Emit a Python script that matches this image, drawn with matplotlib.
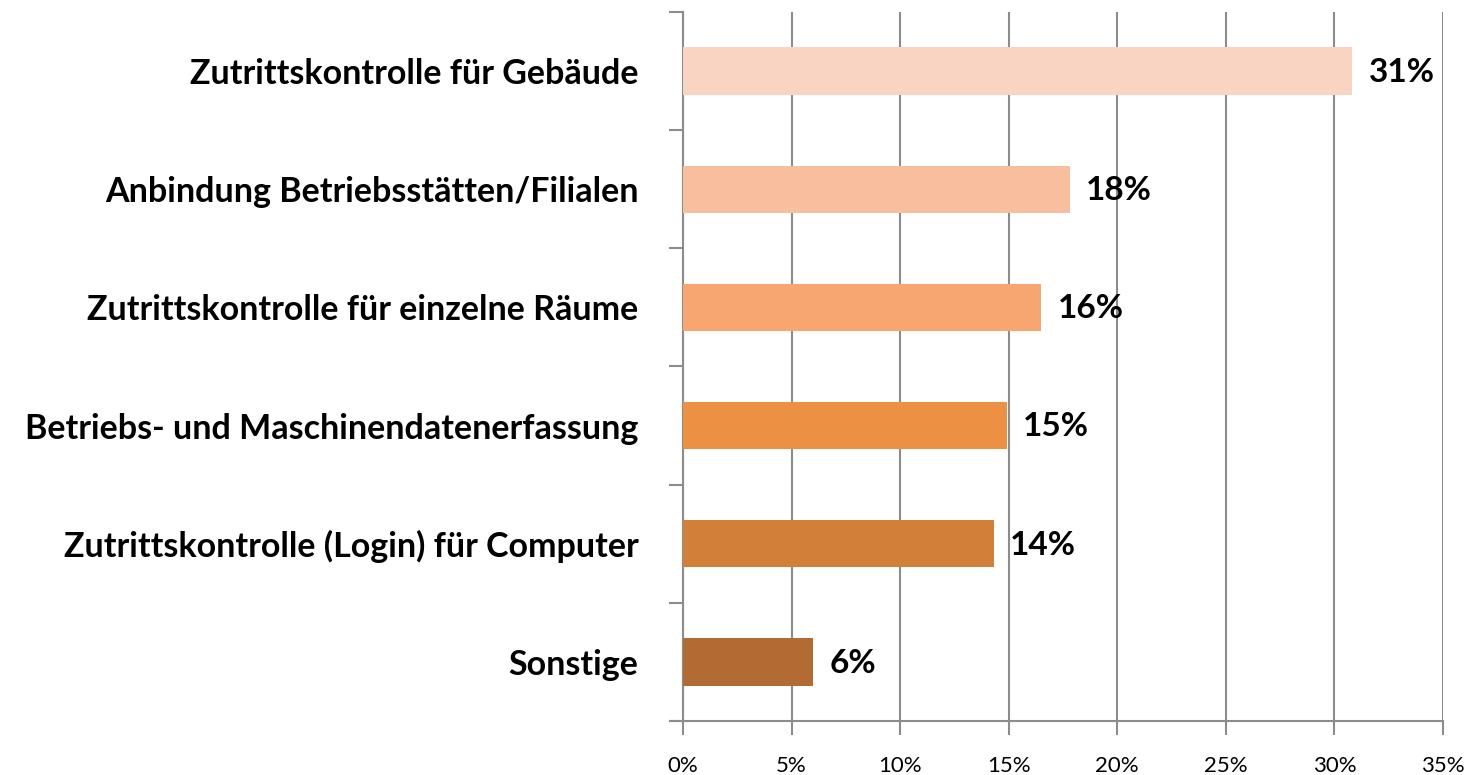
import matplotlib.pyplot as plt
from matplotlib.ticker import MultipleLocator, FuncFormatter

categories = [
    "Zutrittskontrolle für Gebäude",
    "Anbindung Betriebsstätten/Filialen",
    "Zutrittskontrolle für einzelne Räume",
    "Betriebs- und Maschinendatenerfassung",
    "Zutrittskontrolle (Login) für Computer",
    "Sonstige",
]
values = [30.8, 17.8, 16.5, 14.9, 14.3, 6.0]
labels = ["31%", "18%", "16%", "15%", "14%", "6%"]
colors = ["#F9D4C2", "#F8BF9F", "#F7A66F", "#EC9144", "#D27F3A", "#B26C33"]

plt.rcParams['font.family'] = ['Lato', 'DejaVu Sans']

fig = plt.figure(figsize=(14.77, 7.75), dpi=100)
ax = fig.add_axes([0.4624, 0.0697, 0.977 - 0.4624, 0.9845 - 0.0697])

pos = list(range(len(categories)))[::-1]
ax.barh(pos, values, height=0.4, color=colors, zorder=3)
for p, v, lab in zip(pos, values, labels):
    ax.annotate(lab, (v, p), xytext=(12, -1), textcoords="offset points",
                va="center", ha="left", fontsize=24, fontweight="bold", zorder=4)

ax.set_xlim(0, 35)
ax.set_ylim(-0.5, len(categories) - 0.5)
ax.xaxis.set_major_locator(MultipleLocator(5))
ax.xaxis.set_major_formatter(FuncFormatter(lambda x, _: f"{x:.0f}%"))
ax.grid(axis="x", color="#8C8C8C", linewidth=1.5, zorder=0)

ax.set_yticks(pos)
ax.set_yticklabels(categories, fontsize=24.5, fontweight="bold")
ax.set_yticks([i + 0.5 for i in range(-1, len(categories))], minor=True)
ax.tick_params(axis="y", which="major", length=0, pad=32)
ax.tick_params(axis="y", which="minor", length=10, width=1.5, color="#8C8C8C")
ax.tick_params(axis="x", length=10, width=1.5, color="#8C8C8C", labelsize=16, pad=15)

for s in ["top", "right"]:
    ax.spines[s].set_visible(False)
for s in ["left", "bottom"]:
    ax.spines[s].set_color("#8C8C8C")
    ax.spines[s].set_linewidth(1.5)
ax.spines["bottom"].set_bounds(-0.55, 35)
ax.set_axisbelow(True)

fig.savefig("out.png", dpi=100)
